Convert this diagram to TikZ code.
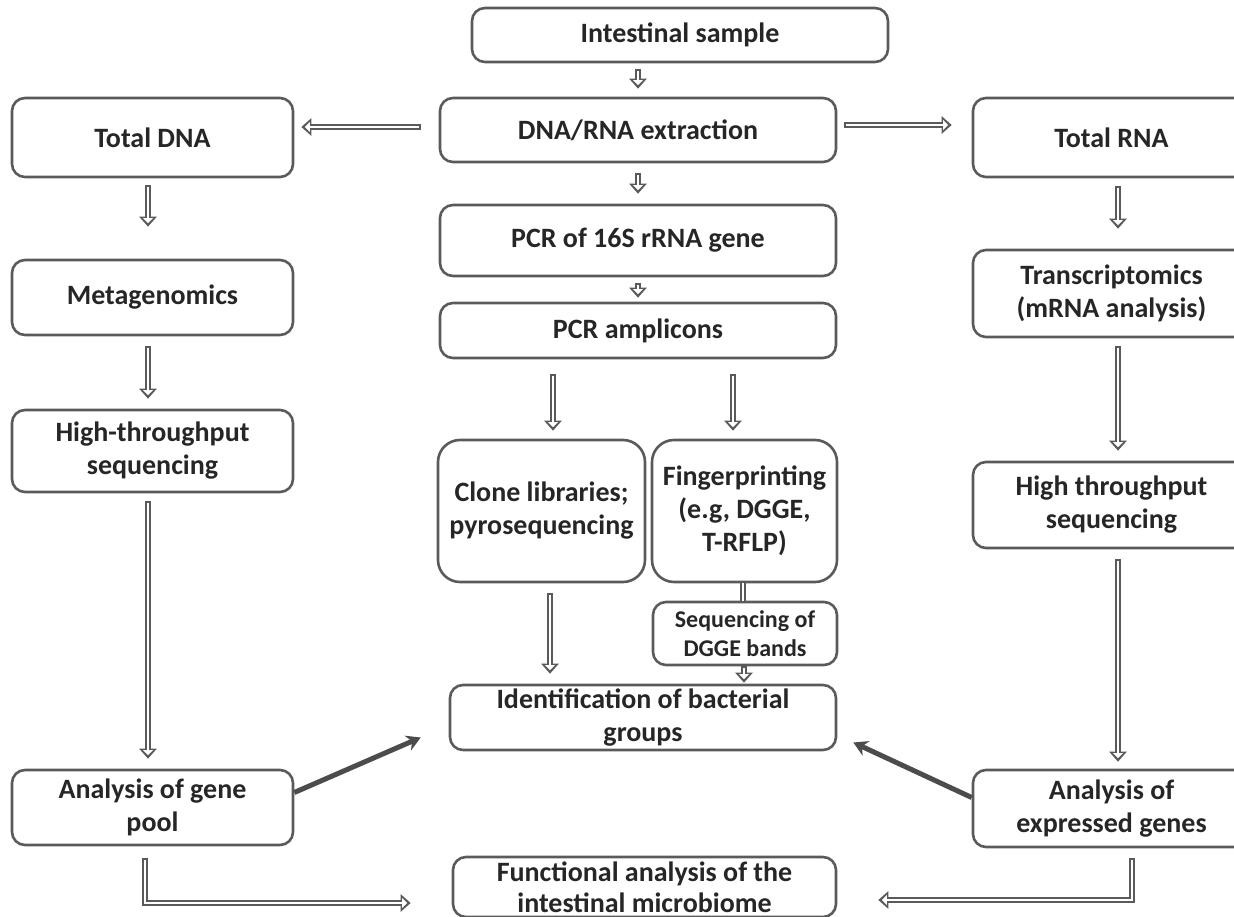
\documentclass[tikz,border=0pt]{standalone}
\usepackage{fontspec}
\setmainfont{Carlito}
\usetikzlibrary{calc,arrows.meta}
\definecolor{boxc}{HTML}{5A5A5A}
\definecolor{txt}{HTML}{262626}
\tikzset{
 bx/.style={draw=boxc, line width=2.6pt, rounded corners=13pt, inner sep=0pt, align=center, text=txt, font=\bfseries\fontsize{28}{33}\selectfont},
 dbl/.style={draw=white, line width=2.6pt, -{Triangle[length=5pt,width=10pt]}, shorten >=3.6pt, shorten <=1.8pt,
   preaction={draw=boxc, line width=6.4pt, -{Triangle[length=10pt,width=17pt]}, shorten >=0pt, shorten <=0pt}},
 dline/.style={draw=white, line width=2.6pt, preaction={draw=boxc, line width=6.4pt}},
 diag/.style={draw=boxc!85!black, line width=5pt, -{Stealth[length=14pt,width=16pt]}}
}
\begin{document}
\begin{tikzpicture}[x=1pt,y=-1pt]
\path[use as bounding box] (0,0) rectangle (1234,917);
\clip (0,0) rectangle (1234,917);
\node[bx, minimum width=416, minimum height=54] (samp) at (680,35) {Intestinal sample};
\node[bx, minimum width=396, minimum height=64] (ext) at (638,130) {DNA/RNA extraction};
\node[bx, minimum width=281, minimum height=79] (tdna) at (152.5,137.5) {Total DNA};
\node[bx, minimum width=277, minimum height=79] (trna) at (1111.5,137.5) {Total RNA};
\node[bx, minimum width=396, minimum height=71] (pcr) at (638,240.5) {PCR of 16S rRNA gene};
\node[bx, minimum width=281, minimum height=75] (meta) at (152.5,297.5) {Metagenomics};
\node[bx, minimum width=277, minimum height=87] (trans) at (1111.5,293.5) {Transcriptomics\\(mRNA analysis)};
\node[bx, minimum width=396, minimum height=55] (amp) at (638,330.5) {PCR amplicons};
\node[bx, minimum width=207, minimum height=142, rounded corners=22pt] (clone) at (541.5,511) {Clone libraries;\\pyrosequencing};
\node[bx, minimum width=185, minimum height=142, rounded corners=22pt] (finger) at (744.5,511) {Fingerprinting\\(e.g, DGGE,\\T-RFLP)};
\node[bx, minimum width=281, minimum height=82] (htsl) at (152.5,451) {High-throughput\\sequencing};
\node[bx, minimum width=277, minimum height=86] (htsr) at (1111.5,505) {High throughput\\sequencing};
\node[bx, minimum width=184, minimum height=63, font=\bfseries\fontsize{24}{29}\selectfont] (dgge) at (745,633.5) {Sequencing of\\DGGE bands};
\node[bx, minimum width=386, minimum height=65] (ident) at (643,717.5) {Identification of bacterial\\groups};
\node[bx, minimum width=281, minimum height=75] (gene) at (152.5,807.5) {Analysis of gene\\pool};
\node[bx, minimum width=277, minimum height=77] (expr) at (1111.5,808.5) {Analysis of\\expressed genes};
\node[bx, minimum width=383, minimum height=60, font=\bfseries\fontsize{28}{31}\selectfont] (func) at (644.5,887) {Functional analysis of the\\intestinal microbiome};

\draw[dbl] ($(samp.south)+(-42,6)$) -- ($(ext.north)+(0,-8)$);
\draw[dbl] ($(ext.west)+(-18,-3)$) -- ($(tdna.east)+(7,-10.5)$);
\draw[dbl] ($(ext.east)+(7,-5)$) -- ($(trna.west)+(-20,-12.5)$);
\draw[dbl] ($(ext.south)+(0,10)$) -- ($(pcr.north)+(0,-10)$);
\draw[dbl] ($(pcr.south)+(0,6)$) -- ($(amp.north)+(0,-4)$);
\draw[dbl] ($(amp.south)+(-85,15)$) -- ($(clone.north)+(11.5,-8)$);
\draw[dbl] ($(amp.south)+(95,15)$) -- ($(finger.north)+(-11.5,-8)$);
\draw[dbl] ($(clone.south)+(8.5,10)$) -- ($(ident.north)+(-93,-10)$);
\draw[dline] ($(finger.south)+(-1.5,0)$) -- ($(dgge.north)+(-2,0)$);
\draw[dbl] ($(dgge.south)+(-1,0)$) -- ($(ident.north)+(101,-1)$);
\draw[dbl] ($(tdna.south)+(-4.5,7)$) -- ($(meta.north)+(-4.5,-32)$);
\draw[dbl] ($(meta.south)+(-4.5,10)$) -- ($(htsl.north)+(-4.5,-10)$);
\draw[dbl] ($(htsl.south)+(-4.5,8)$) -- ($(gene.north)+(-4.5,-10)$);
\draw[dbl] ($(trna.south)+(6.5,8)$) -- ($(trans.north)+(6.5,-20)$);
\draw[dbl] ($(trans.south)+(6.5,8)$) -- ($(htsr.north)+(6.5,-10)$);
\draw[dbl] ($(htsr.south)+(6.5,10)$) -- ($(expr.north)+(6.5,-7)$);
\draw[diag] ($(gene.east)+(0,-15)$) -- ($(ident.west)+(-28,20)$);
\draw[diag] ($(expr.west)+(0,-11)$) -- ($(ident.east)+(16,25)$);
\draw[dbl] ($(gene.south)+(-7.5,12)$) |- ($(func.west)+(-41,16)$);
\draw[dbl] ($(expr.south)+(20.5,10)$) |- ($(func.east)+(41,13)$);
\end{tikzpicture}
\end{document}
